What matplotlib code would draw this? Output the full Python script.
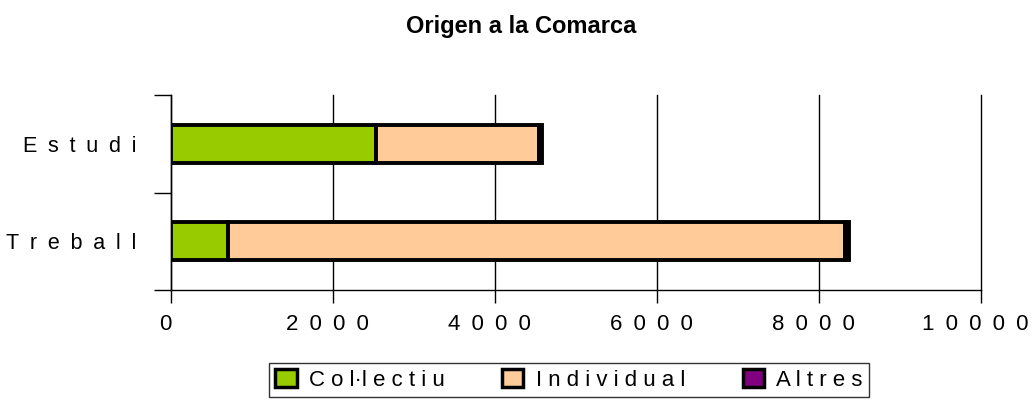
import matplotlib.pyplot as plt
import matplotlib.transforms as mtransforms
import numpy as np

categories = ['Treball', 'Estudi']
col_lectiu = [700, 2530]
individual = [7620, 2015]
altres = [50, 40]
series_names = ['C o l·l e c t i u', 'I n d i v i d u a l', 'A l t r e s']
colors = ['#99CC00', '#FFCC99', '#800080']
xticks = [0, 2000, 4000, 6000, 8000, 10000]

EN = '\u2002'


def spaced(s):
    return EN.join(s)


plt.rcParams['font.family'] = ['Liberation Sans', 'DejaVu Sans']

fig = plt.figure(figsize=(10.33, 4.0), dpi=100)
ax = fig.add_axes([171 / 1033, 1 - 290 / 400, 810 / 1033, 195 / 400])

y = np.arange(len(categories)) + 0.5
left = np.zeros(len(categories))
for vals, name, c in zip([col_lectiu, individual, altres], series_names, colors):
    ax.barh(y, vals, left=left, height=0.385, color=c, edgecolor='black',
            linewidth=2.8, label=name, zorder=3)
    left += np.array(vals)

ax.set_xlim(0, 10000)
ax.set_ylim(0, 2)
ax.set_xticks(xticks)
ax.set_xticklabels([spaced(str(v)) for v in xticks], fontsize=16)
ax.tick_params(axis='x', length=9, width=1, direction='out', pad=8)
shift = mtransforms.ScaledTranslation(-6 / 100, 0, fig.dpi_scale_trans)
for lbl in ax.get_xticklabels():
    lbl.set_transform(lbl.get_transform() + shift)

ax.set_yticks([0, 1, 2])
ax.set_yticklabels([])
ax.set_yticks(y, minor=True)
ax.set_yticklabels([spaced(c) for c in categories], minor=True, fontsize=15.5)
ax.tick_params(axis='y', which='major', length=12, width=1, direction='out')
ax.tick_params(axis='y', which='minor', length=0, pad=25)
ax.grid(axis='x', color='black', linewidth=1, zorder=0)
for gl in ax.xaxis.get_gridlines():
    gl.set_clip_on(False)

for s in ['top', 'right']:
    ax.spines[s].set_visible(False)
ax.spines['left'].set_linewidth(1)
ax.spines['bottom'].set_linewidth(1)

fig.text(521 / 1033, 1 - 27 / 400, 'Origen a la Comarca', ha='center', va='center',
         fontsize=17, fontweight='bold')

leg = fig.legend(loc='center', bbox_to_anchor=(569 / 1033, 1 - 380 / 400),
                 ncol=3, frameon=True, fancybox=False, edgecolor='black',
                 fontsize=16, handlelength=0.95, handleheight=0.85,
                 handletextpad=0.55, columnspacing=2.6, borderpad=0.3,
                 borderaxespad=0)
leg.get_frame().set_linewidth(1)
for h in leg.legend_handles:
    h.set_linewidth(2.5)

fig.savefig('out.png', dpi=100)
